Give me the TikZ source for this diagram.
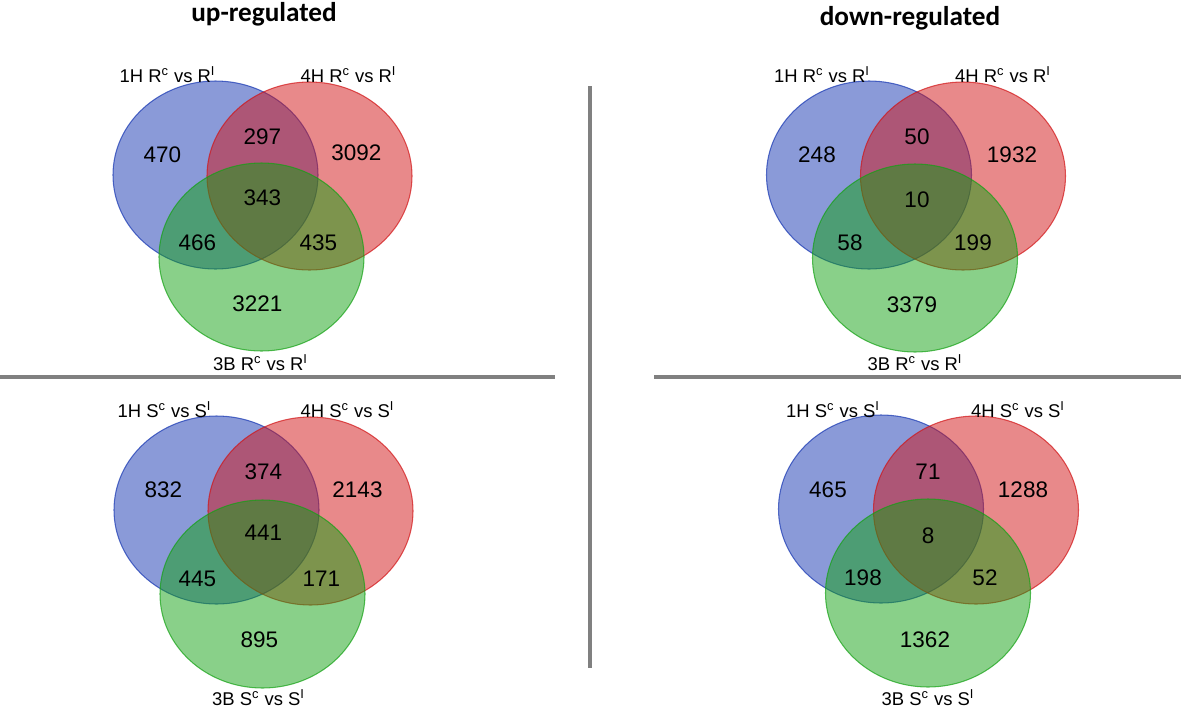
\documentclass[tikz,border=0pt]{standalone}
\usepackage{fontspec}
\setmainfont{Liberation Sans}
\newfontfamily\headfont{Carlito}
\usepackage{tikz}

\definecolor{vennblue}{RGB}{21,53,177}
\definecolor{vennred}{RGB}{209,19,21}
\definecolor{venngreen}{RGB}{19,161,19}
\definecolor{rulegray}{RGB}{128,128,128}

\tikzset{
  setA/.style={fill=vennblue,fill opacity=0.5,draw=vennblue,draw opacity=0.7,line width=0.6pt},
  setB/.style={fill=vennred,fill opacity=0.5,draw=vennred,draw opacity=0.7,line width=0.6pt},
  setC/.style={fill=venngreen,fill opacity=0.5,draw=venngreen,draw opacity=0.7,line width=0.6pt},
  num/.style={font=\fontsize{12.8}{15}\selectfont},
  setlab/.style={anchor=base,font=\fontsize{10.5}{12}\selectfont},
  headline/.style={anchor=base,font=\headfont\bfseries\fontsize{15.5}{18}\selectfont},
  divider/.style={line width=2pt,rulegray}
}

\begin{document}
\begin{tikzpicture}[x=0.02cm,y=-0.02cm]
		\useasboundingbox (0,0) rectangle (1181,707);
		\node[headline] (up) at (264,21) {up-regulated};
		\node[headline] (down) at (910,25) {down-regulated};
		%dividers
		\coordinate (vtop) at (590,86); \coordinate (vbot) at (590,668);
		\coordinate (hl1) at (0,377); \coordinate (hl2) at (555,377);
		\coordinate (hr1) at (654,377); \coordinate (hr2) at (1181,377);
		\draw[divider] (vtop) -- (vbot);
		\draw[divider] (hl1) -- (hl2);
		\draw[divider] (hr1) -- (hr2);
		
		%up, R
		\begin{scope}[shift={(215.5,175)}]
			\draw[setA] (0,0) ellipse (102.5 and 94);
			\draw[setB] (94,1) ellipse (102.5 and 94);
			\draw[setC] (46,82) ellipse (102.5 and 94);
			\node[setlab] (ur-la) at (-48,-93) {1H R\textsuperscript{c} vs R\textsuperscript{I}};
			\node[setlab] (ur-lb) at (133,-93) {4H R\textsuperscript{c} vs R\textsuperscript{I}};
			\node[setlab] (ur-lc) at (45,195) {3B R\textsuperscript{c} vs R\textsuperscript{I}};
			\node[num] (ur-a) at (-53,-20) {470};
			\node[num] (ur-ab) at (47,-38) {297};
			\node[num] (ur-b) at (141,-22) {3092};
			\node[num] (ur-abc) at (47,23) {343};
			\node[num] (ur-ac) at (-18,68) {466};
			\node[num] (ur-bc) at (103,68) {435};
			\node[num] (ur-c) at (42,129) {3221};
		\end{scope}
		
		%up, S
		\begin{scope}[shift={(216.5,510)}]
			\draw[setA] (0,0) ellipse (102.5 and 94);
			\draw[setB] (94,1) ellipse (102.5 and 94);
			\draw[setC] (46,84) ellipse (102.5 and 94);
			\node[setlab] (us-la) at (-52,-93) {1H S\textsuperscript{c} vs S\textsuperscript{I}};
			\node[setlab] (us-lb) at (131,-93) {4H S\textsuperscript{c} vs S\textsuperscript{I}};
			\node[setlab] (us-lc) at (42,195) {3B S\textsuperscript{c} vs S\textsuperscript{I}};
			\node[num] (us-a) at (-53,-20) {832};
			\node[num] (us-ab) at (47,-38) {374};
			\node[num] (us-b) at (141,-20) {2143};
			\node[num] (us-abc) at (47,23) {441};
			\node[num] (us-ac) at (-19,69) {445};
			\node[num] (us-bc) at (105,69) {171};
			\node[num] (us-c) at (43,130) {895};
		\end{scope}
		
		%down, R
		\begin{scope}[shift={(869,175)}]
			\draw[setA] (0,0) ellipse (102.5 and 94);
			\draw[setB] (94,1) ellipse (102.5 and 94);
			\draw[setC] (46,83) ellipse (102.5 and 94);
			\node[setlab] (dr-la) at (-47,-93) {1H R\textsuperscript{c} vs R\textsuperscript{I}};
			\node[setlab] (dr-lb) at (134,-93) {4H R\textsuperscript{c} vs R\textsuperscript{I}};
			\node[setlab] (dr-lc) at (46,195) {3B R\textsuperscript{c} vs R\textsuperscript{I}};
			\node[num] (dr-a) at (-52,-20) {248};
			\node[num] (dr-ab) at (48,-38) {50};
			\node[num] (dr-b) at (143,-20) {1932};
			\node[num] (dr-abc) at (48,25) {10};
			\node[num] (dr-ac) at (-19,68) {58};
			\node[num] (dr-bc) at (104,68) {199};
			\node[num] (dr-c) at (43,130) {3379};
		\end{scope}
		
		%down, S
		\begin{scope}[shift={(881,509)}]
			\draw[setA] (0,0) ellipse (102.5 and 94);
			\draw[setB] (95,1) ellipse (102.5 and 94);
			\draw[setC] (47,84) ellipse (102.5 and 94);
			\node[setlab] (ds-la) at (-48,-92) {1H S\textsuperscript{c} vs S\textsuperscript{I}};
			\node[setlab] (ds-lb) at (137,-92) {4H S\textsuperscript{c} vs S\textsuperscript{I}};
			\node[setlab] (ds-lc) at (47,196) {3B S\textsuperscript{c} vs S\textsuperscript{I}};
			\node[num] (ds-a) at (-53,-19) {465};
			\node[num] (ds-ab) at (47,-37) {71};
			\node[num] (ds-b) at (142,-19) {1288};
			\node[num] (ds-abc) at (47,27) {8};
			\node[num] (ds-ac) at (-18,69) {198};
			\node[num] (ds-bc) at (104,69) {52};
			\node[num] (ds-c) at (44,131) {1362};
		\end{scope}
		
\end{tikzpicture}
\end{document}
